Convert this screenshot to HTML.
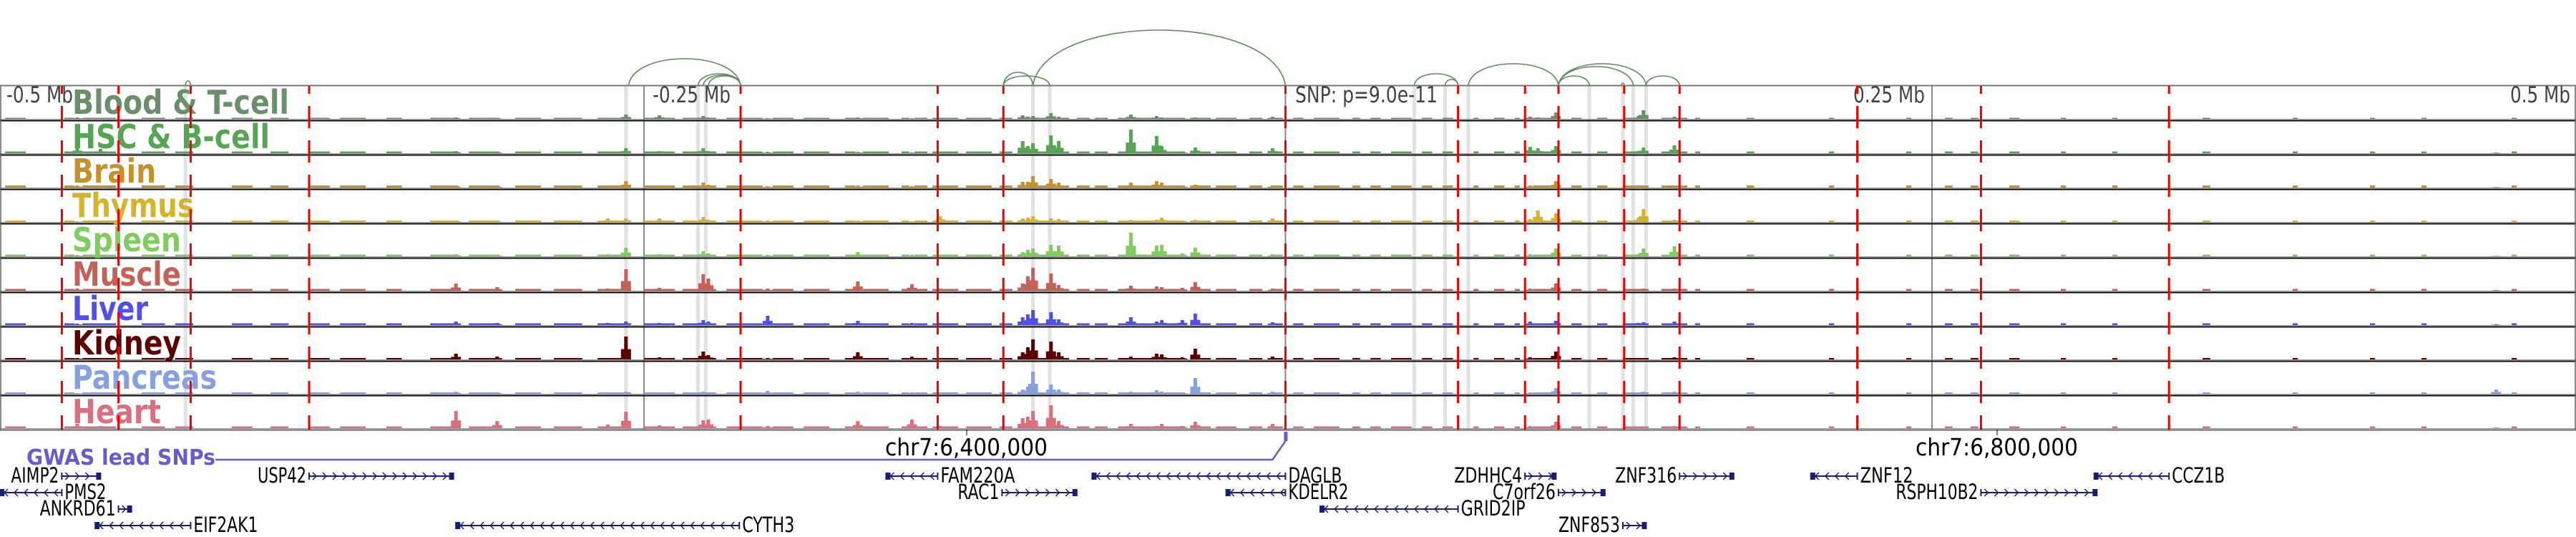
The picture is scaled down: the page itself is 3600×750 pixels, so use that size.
<!DOCTYPE html>
<html><head><meta charset="utf-8">
<style>
html,body{margin:0;padding:0;background:#fff;}
svg{display:block;}
.cond{font-family:"DejaVu Sans Condensed","DejaVu Sans","Liberation Sans",sans-serif;font-stretch:condensed;}
</style></head>
<body>
<svg id="chart" xmlns="http://www.w3.org/2000/svg" width="3600" height="750" viewBox="0 0 3600 750"></svg>
<script>
// ---- data ----
const tissues = ["Blood & T-cell","HSC & B-cell","Brain","Thymus","Spleen","Muscle","Liver","Kidney","Pancreas","Heart"];
const tissueColors = ["#6a8f6a","#55a555","#c4922a","#d4b42a","#80cc60","#c4625a","#5050e8","#5c0000","#86a0e0","#d87080"];
const labelWidths = [303,276,117,170,152,152,106,152,202,124];
const peakKb = [-470,-461,-323,-307,-264,-257,-244,-227,-225,-202,-167,-146,-135,-103,-101,-99,-92,-89,-61,-51,-49,-41,-36,-6,94,97,104,136,138,150,469];
const hBlood   = [2,1,2,1,1,6,5,4,2,1,2,1,1,5,3,4,8,3,6,4,2,1,2,3,3,2,9,4,12,3,0];
const hHSC     = [8,6,3,2,2,7,3,7,3,2,2,1,2,17,10,14,25,17,33,24,10,2,8,7,9,7,10,3,8,11,1];
const hBrain   = [3,2,3,2,3,9,3,7,4,2,3,2,2,8,8,16,12,7,7,9,7,3,4,3,3,2,9,2,3,3,1];
const hThymus  = [1,1,2,1,5,5,5,7,3,2,2,1,8,5,6,8,5,4,3,3,6,2,3,5,4,16,12,6,18,3,0];
const hSpleen  = [2,2,3,2,3,12,3,7,4,2,6,2,2,6,9,11,16,15,33,15,16,4,12,3,3,2,11,3,11,14,1];
const hMuscle  = [3,2,10,5,3,30,4,23,17,3,13,9,3,10,20,32,24,8,7,6,5,4,12,3,3,2,10,2,3,3,1];
const hLiver   = [2,2,5,3,3,5,3,7,5,13,6,3,3,11,15,21,18,8,11,5,7,7,16,4,5,2,6,3,4,5,1];
const hKidney  = [2,1,8,4,2,32,3,11,6,2,10,4,2,10,17,28,25,10,4,8,7,3,15,4,3,2,11,2,2,3,0];
const hPancreas= [1,1,3,2,1,3,2,3,2,4,3,2,2,6,10,31,13,6,3,5,3,2,22,3,2,1,8,1,3,3,6];
const hHeart   = [6,3,24,10,5,23,4,11,12,3,10,12,3,14,16,24,32,10,6,3,6,3,9,6,3,2,9,2,2,3,1];
const bgLevels = [1.5,2.5,3,2,2.5,2.5,2.5,2,2,2.5];
const bgSegStart = [-498,-475,-468,-445,-432,-410,-395,-380,-368,-350,-333,-318,-300,-285,-268,-250,-235,-218,-200,-188,-172,-165,-150,-145,-138,-125,-112,-105,-82,-75,-66,-48,-38,-28,-15,-6,2,10,25,32,40,52,60,72,80,88,95,110,120,130,145,158,178,210,240,255,265,280,300,320,355,390,420,440,475];
const bgSegEnd   = [-490,-471,-455,-436,-425,-402,-388,-372,-358,-344,-322,-306,-290,-274,-255,-238,-222,-204,-192,-178,-168,-155,-147,-140,-128,-115,-107,-85,-77,-70,-50,-40,-30,-20,-10,-2,6,20,28,36,48,56,64,74,84,90,105,114,124,140,155,160,181,212,242,258,268,284,302,322,358,392,422,442,477];
const grayBandKb = [-428,-257,-229,-226,-99,-92.5,49,61,70,117,130,134,139];
const redLineKb = [-476,-454,-426,-380,-212.5,-136,-110.5,-1,66,92,105,130.5,152,221,269,342];
const arcStart = [-256,-229,-227,-225,-428,-110.5,-110.5,-99,49,61,70,105,105,105,139,129.5];
const arcEnd   = [-212.5,-212.5,-212.5,-212.5,-426,-99,-92.5,-1,66,66,105,117,134,139,152,130.5];
const arcHeight= [37,16,14,13,6,18,13,77,16,8,30,13,26,30,13,3];
const geneNames = ["AIMP2","USP42","PMS2","ANKRD61","EIF2AK1","CYTH3","FAM220A","DAGLB","ZDHHC4","ZNF316","RAC1","KDELR2","C7orf26","GRID2IP","ZNF853","ZNF12","CCZ1B","RSPH10B2"];
const geneStart = [-476,-380,-500,-454,-463,-323,-156,-76,92,152,-111,-24,105,12.5,130,203,313,269];
const geneEnd   = [-461,-324,-476,-449,-426,-213,-136,-1,104,173,-82,-1,123,66,139,221,342,314];
const geneRow   = [0,0,1,2,3,3,0,0,0,0,1,1,1,2,3,0,0,1];
const geneStrand= [1,1,-1,1,-1,-1,-1,-1,1,1,1,-1,1,-1,1,-1,-1,1];
const snpKb = -1;
// label widths (styling)
const geneLabelW = [67,68,58,106,90,73,104,75,95,86,58,84,88,90,86,74,74,115];

// ---- helpers ----
const NS = "http://www.w3.org/2000/svg";
const svg = document.getElementById("chart");
const PX_PER_KB = 3.6, CENTER = 1800;
function xOf(kb){ return CENTER + kb*PX_PER_KB; }
const TOP = 120, TH = 48;
function boundary(i){ return TOP + TH*(i+1); }
function mk(tag, attrs, parent){
  const e = document.createElementNS(NS, tag);
  for (const k in attrs) e.setAttribute(k, attrs[k]);
  (parent||svg).appendChild(e);
  return e;
}
const heights = [hBlood,hHSC,hBrain,hThymus,hSpleen,hMuscle,hLiver,hKidney,hPancreas,hHeart];

// gray bands
const gBands = mk("g",{});


grayBandKb.forEach(kb=>{
  const r = mk("rect",{x:xOf(kb)-2.5,y:TOP,width:5,height:TH*10,fill:"#e2e2e2"},gBands);
  
  
});
[-250,250,snpKb].forEach(kb=>{
  const l = mk("line",{x1:xOf(kb),x2:xOf(kb),y1:TOP,y2:TOP+TH*10,stroke:"#888","stroke-width":2});
  
  
});

// tracks
tissues.forEach((t,i)=>{
  const g = mk("g",{});
  
  
  const base = boundary(i)-2;
  const col = tissueColors[i];
  for (let s=0;s<bgSegStart.length;s++){
    const x1 = xOf(bgSegStart[s]), x2 = xOf(bgSegEnd[s]);
    const r = mk("rect",{x:x1,y:base-bgLevels[i],width:x2-x1,height:bgLevels[i],fill:col},g);
    
    
  }
  heights[i].forEach((h,k)=>{
    if (h<=0) return;
    const x = xOf(peakKb[k]);
    const sh = mk("rect",{x:x-7,y:base-h*0.45,width:14,height:h*0.45,fill:col},g);
    
    
    const r = mk("rect",{x:x-2.5,y:base-h,width:5,height:h,fill:col},g);
    
    
  });
  const gl = mk("line",{x1:0,x2:3600,y1:base+0.5,y2:base+0.5,stroke:"#999","stroke-width":1},g);
  
  
  const bl = mk("line",{x1:0,x2:3600,y1:boundary(i)+0.5,y2:boundary(i)+0.5,stroke:i==9?"#666":"#000","stroke-width":2},g);
  
  
});

// frame
const topLine = mk("line",{x1:0,x2:3600,y1:TOP-0.5,y2:TOP-0.5,stroke:"#777","stroke-width":2});


[1,3599].forEach(x=>{
  const l = mk("line",{x1:x,x2:x,y1:TOP,y2:TOP+TH*10,stroke:"#666","stroke-width":1.5});
  
  
});

// ruler labels
[["-0.5 Mb",9,93],["-0.25 Mb",912,109],["SNP: p=9.0e-11",1810,199],["0.25 Mb",2590,100],["0.5 Mb",3508,84]].forEach(a=>{
  const t = mk("text",{x:a[1],y:143,"font-size":31,fill:"#444","class":"cond",textLength:a[2],lengthAdjust:"spacingAndGlyphs"});
  t.textContent = a[0];
  
  
});

// track labels
tissues.forEach((t,i)=>{
  const tx = mk("text",{x:101,y:TOP+TH*i+39,"font-size":46,"font-weight":"bold",fill:tissueColors[i],"class":"cond",textLength:labelWidths[i],lengthAdjust:"spacingAndGlyphs"});
  tx.textContent = t;
  
  
});

// red dashed lines
redLineKb.forEach(kb=>{
  const l = mk("line",{x1:xOf(kb),x2:xOf(kb),y1:TOP,y2:TOP+TH*10,stroke:"#ee0000","stroke-width":3,"stroke-dasharray":"31 17","stroke-dashoffset":"-28"});
  
  
});

// arcs
const gArcs = mk("g",{});


arcStart.forEach((s,k)=>{
  const x1 = xOf(s), x2 = xOf(arcEnd[k]), yb = TOP-1, c = yb - arcHeight[k]*4/3;
  const p = mk("path",{d:`M${x1},${yb} C${x1+(x2-x1)*0.05},${c} ${x2-(x2-x1)*0.05},${c} ${x2},${yb}`,fill:"none",stroke:"#5f8a5f","stroke-width":1.6},gArcs);
  
  
});

// GWAS track
const gw = mk("text",{x:37,y:649,"font-size":30,"font-weight":"bold",fill:"#6a5acd","class":"cond",textLength:264,lengthAdjust:"spacingAndGlyphs"});
gw.textContent = "GWAS lead SNPs";


const sx = xOf(snpKb);
const gl = mk("polyline",{points:`301,642 ${sx-18},642 ${sx},616`,fill:"none",stroke:"#6a5acd","stroke-width":2.5});


const sr = mk("rect",{x:sx-2,y:603,width:5,height:13,fill:"#6a5acd"});



// coordinate labels
[[1351,1237,"chr7:6,400,000"],[2791,2677,"chr7:6,800,000"]].forEach(a=>{
  const tk = mk("line",{x1:a[0],x2:a[0],y1:600,y2:608,stroke:"#000","stroke-width":1});
  
  
  const t = mk("text",{x:a[1],y:636,"font-size":33,fill:"#000","class":"cond",textLength:227,lengthAdjust:"spacingAndGlyphs"});
  t.textContent = a[2];
  
  
});

// genes
const rowY = [665,688,711,734];
const NAVY = "#1c1c70";
geneNames.forEach((n,k)=>{
  const g = mk("g",{});
  
  
  const x1 = xOf(geneStart[k]), x2 = xOf(geneEnd[k]), y = rowY[geneRow[k]], st = geneStrand[k];
  mk("line",{x1:x1,x2:x2,y1:y,y2:y,stroke:NAVY,"stroke-width":2},g);
  mk("line",{x1:x1,x2:x1,y1:y-5,y2:y+5,stroke:NAVY,"stroke-width":2},g);
  mk("line",{x1:x2,x2:x2,y1:y-5,y2:y+5,stroke:NAVY,"stroke-width":2},g);
  for (let cx = x1+8; cx < x2-4; cx += 14){
    const d = st>0 ? `M${cx-3},${y-5} L${cx+2},${y} L${cx-3},${y+5}` : `M${cx+3},${y-5} L${cx-2},${y} L${cx+3},${y+5}`;
    mk("path",{d:d,fill:"none",stroke:NAVY,"stroke-width":1.5},g);
  }
  const bx = st>0 ? x2-6 : x1;
  mk("rect",{x:bx,y:y-5,width:6,height:10,fill:NAVY},g);
  const labelLeft = st>0;
  const w = geneLabelW[k];
  const t = mk("text",{x: labelLeft ? x1-4-w : x2+4, y:y+9,"font-size":29,fill:"#000","class":"cond",textLength:w,lengthAdjust:"spacingAndGlyphs"},g);
  t.textContent = n;
  
  
});
</script>
</body></html>
